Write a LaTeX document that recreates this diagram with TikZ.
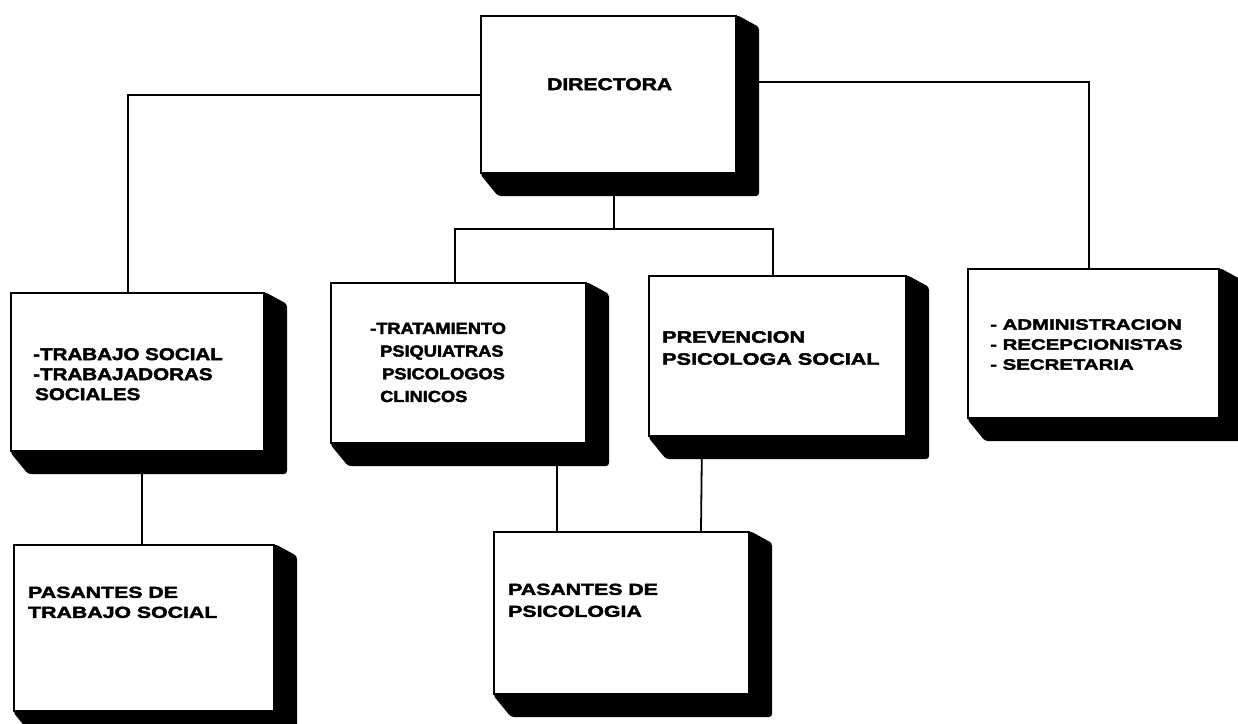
\documentclass[tikz,border=0pt]{standalone}
\usepackage{fontspec}
\setmainfont{Liberation Sans}
\usetikzlibrary{calc}
\pgfdeclarelayer{lines}
\pgfdeclarelayer{shade}
\pgfsetlayers{lines,shade,main}
\newcommand\boxshade[1]{%
  \fill[shadefill] (#1.north east) -- ($(#1.north east)+(22,12)$) -- ($(#1.south east)+(22,22)$) -- ($(#1.south west)+(18,22)$) -- (#1.south west) -- cycle;}
\newcommand\lblfont[3]{\bfseries\fontsize{#1}{#2}\selectfont\addfontfeature{FakeStretch=#3,FakeBold=2.5}}
\tikzset{
  box/.style={draw=black, line width=2pt, fill=white, inner sep=0pt, anchor=north west},
  conn/.style={draw=black, line width=1.8pt},
  shadefill/.style={fill=black, rounded corners=3pt},
  lbl/.style={inner sep=0pt, anchor=north west, align=left, text=black},
}
\begin{document}
\begin{tikzpicture}[x=1pt, y=-1pt]
\useasboundingbox (0,0) rectangle (1238,723);
% boxes
\node[box, minimum width=255pt, minimum height=157pt] (dir) at (480,15) {};
\node[box, minimum width=253pt, minimum height=158pt] (ts)  at (10,292) {};
\node[box, minimum width=255pt, minimum height=160pt] (tr)  at (330,282) {};
\node[box, minimum width=257pt, minimum height=160pt] (pr)  at (648,275) {};
\node[box, minimum width=251pt, minimum height=149pt] (ad)  at (967,268) {};
\node[box, minimum width=260pt, minimum height=166pt] (pts) at (13,544) {};
\node[box, minimum width=255pt, minimum height=162pt] (pps) at (493,531) {};
% labels
\node[lbl, font=\lblfont{17}{20}{1.24}] (dirT) at (547,78) {DIRECTORA};
\node[lbl, font=\lblfont{17}{20}{1.21}] (tsT) at (33,348) {-TRABAJO SOCIAL\\-TRABAJADORAS\\\hspace*{2pt}SOCIALES};
\node[lbl, font=\lblfont{16}{22.7}{1.14}] (trT) at (370,322.5) {-TRATAMIENTO\\\hspace*{10pt}PSIQUIATRAS\\\hspace*{12pt}PSICOLOGOS\\\hspace*{10pt}CLINICOS};
\node[lbl, font=\lblfont{16.5}{22}{1.31}] (prT) at (662,331) {PREVENCION\\PSICOLOGA SOCIAL};
\node[lbl, font=\lblfont{15}{20}{1.36}] (adT) at (990,319) {- ADMINISTRACION\\- RECEPCIONISTAS\\- SECRETARIA};
\node[lbl, font=\lblfont{16}{20}{1.33}] (ptsT) at (28,586.5) {PASANTES DE\\TRABAJO SOCIAL};
\node[lbl, font=\lblfont{16}{22}{1.33}] (ppsT) at (508,583.5) {PASANTES DE\\PSICOLOGIA};
% shadows
\begin{pgfonlayer}{shade}
\boxshade{dir}\boxshade{ts}\boxshade{tr}\boxshade{pr}\boxshade{ad}\boxshade{pts}\boxshade{pps}
\end{pgfonlayer}
% connectors
\begin{pgfonlayer}{lines}
\fill[white] (0,0) rectangle (1238,723);
\draw[conn] ($(dir.north west)+(0,80)$) -| ($(ts.north west)+(118,0)$);
\draw[conn] ($(dir.north east)+(0,67)$) -| ($(ad.north west)+(122,0)$);
\coordinate (hub) at ($(dir.south west)+(134,55)$);
\draw[conn] (dir.south -| hub) -- (hub);
\draw[conn] ($(tr.north west)+(125,0)$) |- (hub) -| ($(pr.north west)+(125,0)$);
\draw[conn] ($(ts.south west)+(132,0)$) -- ($(pts.north west)+(129,0)$);
\draw[conn] ($(tr.south west)+(227,0)$) -- ($(pps.north west)+(64,0)$);
\draw[conn] ($(pr.south west)+(54,0)$) -- ($(pps.north west)+(208,0)$);
\end{pgfonlayer}
\end{tikzpicture}
\end{document}
